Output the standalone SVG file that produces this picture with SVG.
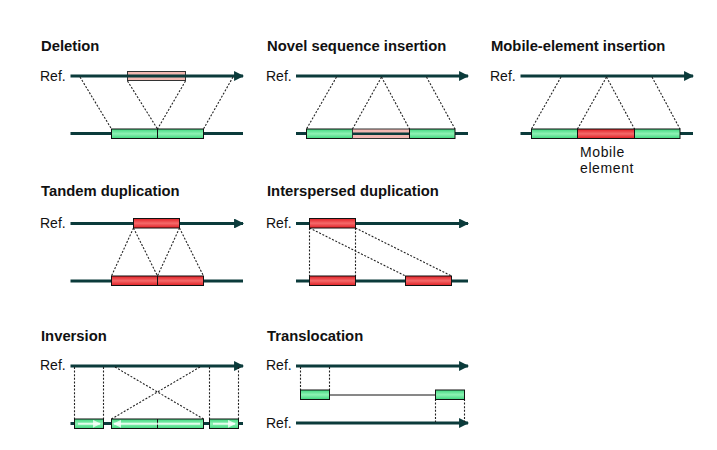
<svg xmlns="http://www.w3.org/2000/svg" width="717" height="450" viewBox="0 0 717 450">
<defs>
<linearGradient id="gG" x1="0" y1="0" x2="0" y2="1">
<stop offset="0" stop-color="#3ed67e"/><stop offset="0.5" stop-color="#8ef2b4"/><stop offset="1" stop-color="#3ed67e"/>
</linearGradient>
<linearGradient id="gR" x1="0" y1="0" x2="0" y2="1">
<stop offset="0" stop-color="#e01e24"/><stop offset="0.5" stop-color="#f46a6a"/><stop offset="1" stop-color="#e01e24"/>
</linearGradient>
<marker id="ah" viewBox="0 0 10 10" refX="9" refY="5" markerWidth="3.3" markerHeight="3.3" orient="auto" markerUnits="strokeWidth">
<path d="M0,0 L10,5 L0,10 z" fill="#0b3b3b"/>
</marker>
<marker id="wh" viewBox="0 0 10 10" refX="9" refY="5" markerWidth="4" markerHeight="4" orient="auto" markerUnits="strokeWidth">
<path d="M0,0 L10,5 L0,10 z" fill="#ffffff" fill-opacity="0.75"/>
</marker>
</defs>
<style>
.t{font-family:"Liberation Sans",Arial,sans-serif;font-weight:bold;font-size:14.8px;fill:#111}
.r{font-family:"Liberation Sans",Arial,sans-serif;font-size:14px;fill:#111}
.m{font-family:"Liberation Sans",Arial,sans-serif;font-size:14px;letter-spacing:0.6px;fill:#111}
.ln{stroke:#0b3b3b;stroke-width:3;fill:none}
.ar{stroke:#0b3b3b;stroke-width:3;fill:none;marker-end:url(#ah)}
.d{stroke:#222;stroke-width:1.1;stroke-dasharray:2,1.6;fill:none}
.g{fill:url(#gG);stroke:#111;stroke-width:1}
.rd{fill:url(#gR);stroke:#111;stroke-width:1}
.p{fill:#f2b8b2;stroke:#333;stroke-width:1}
.w{stroke:#fff;stroke-opacity:0.75;stroke-width:2;fill:none;marker-end:url(#wh)}
.th{stroke:#111;stroke-width:1;fill:none}
</style>
<rect width="717" height="450" fill="#fff"/>

<g id="deletion">
<text class="t" x="41" y="51">Deletion</text>
<text class="r" x="40" y="81">Ref.</text>
<rect class="p" x="127.5" y="71.5" width="58" height="9"/>
</g>
<g id="novel">
<text class="t" x="267" y="51">Novel sequence insertion</text>
<text class="r" x="266" y="81">Ref.</text>
</g>
<g id="mobile">
<text class="t" x="491" y="51">Mobile-element insertion</text>
<text class="r" x="490" y="81">Ref.</text>
<text class="m" x="580" y="157">Mobile</text>
<text class="m" x="580" y="173">element</text>
</g>
<g id="tandem">
<text class="t" x="41" y="196">Tandem duplication</text>
<text class="r" x="40" y="228">Ref.</text>
</g>
<g id="interspersed">
<text class="t" x="267" y="196">Interspersed duplication</text>
<text class="r" x="266" y="228">Ref.</text>
</g>
<g id="inversion">
<text class="t" x="41" y="341">Inversion</text>
<text class="r" x="40" y="370">Ref.</text>
</g>
<g id="translocation">
<text class="t" x="267" y="341">Translocation</text>
<text class="r" x="266" y="370">Ref.</text>
<text class="r" x="266" y="428">Ref.</text>
</g>

<g id="connectors">
<!-- deletion -->
<line class="ar" x1="70.5" y1="76" x2="243" y2="76"/>
<line class="ln" x1="70.5" y1="133.5" x2="243" y2="133.5"/>
<line class="d" x1="80" y1="77" x2="111.5" y2="129"/>
<line class="d" x1="127.5" y1="81" x2="157.5" y2="129"/>
<line class="d" x1="185.5" y1="81" x2="157.5" y2="129"/>
<line class="d" x1="233" y1="77" x2="203.5" y2="129"/>
<!-- novel -->
<line class="ar" x1="296" y1="76" x2="468" y2="76"/>
<line class="ln" x1="296" y1="133.5" x2="468" y2="133.5"/>
<line class="d" x1="336.5" y1="77" x2="306.5" y2="129"/>
<line class="d" x1="381.5" y1="77" x2="352.5" y2="129"/>
<line class="d" x1="381.5" y1="77" x2="409.5" y2="129"/>
<line class="d" x1="426.5" y1="77" x2="455" y2="129"/>
<!-- mobile -->
<line class="ar" x1="520.5" y1="76" x2="693" y2="76"/>
<line class="ln" x1="520.5" y1="133.5" x2="693" y2="133.5"/>
<line class="d" x1="561" y1="77" x2="531.5" y2="129"/>
<line class="d" x1="606.5" y1="77" x2="577.5" y2="129"/>
<line class="d" x1="606.5" y1="77" x2="634.5" y2="129"/>
<line class="d" x1="652" y1="77" x2="680" y2="129"/>
<!-- tandem -->
<line class="ar" x1="70.5" y1="223.5" x2="243" y2="223.5"/>
<line class="ln" x1="70.5" y1="281" x2="243" y2="281"/>
<line class="d" x1="133.5" y1="228" x2="111.5" y2="276"/>
<line class="d" x1="133.5" y1="228" x2="157.5" y2="276"/>
<line class="d" x1="179.5" y1="228" x2="157.5" y2="276"/>
<line class="d" x1="179.5" y1="228" x2="203.5" y2="276"/>
<!-- interspersed -->
<line class="ar" x1="296" y1="223.5" x2="468" y2="223.5"/>
<line class="ln" x1="296" y1="281" x2="468" y2="281"/>
<line class="d" x1="309.5" y1="228" x2="309.5" y2="276"/>
<line class="d" x1="355.5" y1="228" x2="355.5" y2="276"/>
<line class="d" x1="309.5" y1="228" x2="405.5" y2="276"/>
<line class="d" x1="355.5" y1="228" x2="451.5" y2="276"/>
<!-- inversion -->
<line class="ar" x1="70.5" y1="366" x2="243" y2="366"/>
<line class="ln" x1="70.5" y1="423.5" x2="243" y2="423.5"/>
<line class="d" x1="74.5" y1="367" x2="74.5" y2="419"/>
<line class="d" x1="103.5" y1="367" x2="103.5" y2="419"/>
<line class="d" x1="209.5" y1="367" x2="209.5" y2="419"/>
<line class="d" x1="238.5" y1="367" x2="238.5" y2="419"/>
<line class="d" x1="115" y1="367" x2="203.5" y2="419"/>
<line class="d" x1="200" y1="367" x2="111.5" y2="419"/>
<!-- translocation -->
<line class="ar" x1="296" y1="366" x2="468" y2="366"/>
<line class="ar" x1="296" y1="423" x2="468" y2="423"/>
<line class="th" x1="329.5" y1="395" x2="435.5" y2="395"/>
<line class="d" x1="300.5" y1="367" x2="300.5" y2="390"/>
<line class="d" x1="329.5" y1="367" x2="329.5" y2="390"/>
<line class="d" x1="435.5" y1="399" x2="435.5" y2="422"/>
<line class="d" x1="464.5" y1="399" x2="464.5" y2="422"/>
</g>

<g id="segments">
<rect class="g" x="111.5" y="129" width="46" height="9.5"/>
<rect class="g" x="157.5" y="129" width="46" height="9.5"/>
<rect class="g" x="306.5" y="129" width="46" height="9.5"/>
<rect class="p" x="352.5" y="129" width="57" height="9.5"/>
<line x1="352.5" y1="133.75" x2="409.5" y2="133.75" stroke="#0b3b3b" stroke-width="2.5"/>
<rect class="g" x="409.5" y="129" width="45.5" height="9.5"/>
<rect class="g" x="531.5" y="129" width="46" height="9.5"/>
<rect class="rd" x="577.5" y="129" width="57" height="9.5"/>
<rect class="g" x="634.5" y="129" width="45.5" height="9.5"/>
<rect class="rd" x="133.5" y="218.5" width="46" height="9.5"/>
<rect class="rd" x="111.5" y="276" width="46" height="9.5"/>
<rect class="rd" x="157.5" y="276" width="46" height="9.5"/>
<rect class="rd" x="309.5" y="218.5" width="46" height="9.5"/>
<rect class="rd" x="309.5" y="276" width="46" height="9.5"/>
<rect class="rd" x="405.5" y="276" width="46" height="9.5"/>
<rect class="g" x="74.5" y="419" width="29" height="9.5"/>
<line class="w" x1="78" y1="423.75" x2="100" y2="423.75"/>
<rect class="g" x="111.5" y="419" width="92" height="9.5"/>
<line x1="157.5" y1="419" x2="157.5" y2="428.5" stroke="#111" stroke-width="1"/>
<line class="w" x1="200" y1="423.75" x2="114" y2="423.75"/>
<rect class="g" x="209.5" y="419" width="29" height="9.5"/>
<line class="w" x1="213" y1="423.75" x2="235" y2="423.75"/>
<rect class="g" x="300.5" y="390" width="29" height="9.5"/>
<rect class="g" x="435.5" y="390" width="29" height="9.5"/>
</g>
</svg>
